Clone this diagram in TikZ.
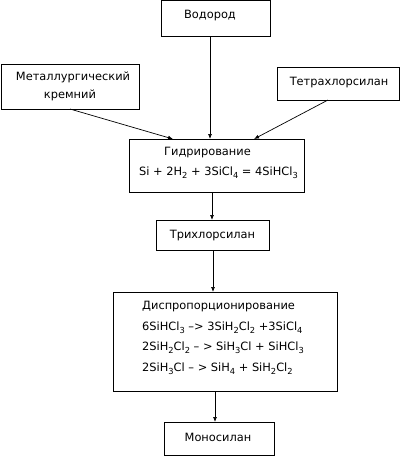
\documentclass[tikz,border=0pt]{standalone}
\usepackage{fontspec}
\setmainfont{DejaVu Sans}
\usetikzlibrary{arrows.meta}
\newcommand\sbs[1]{\raisebox{-0.45ex}{\fontsize{8.3}{9}\selectfont #1}}
\begin{document}
\begin{tikzpicture}[x=1pt,y=-1pt,
  box/.style={draw, line width=0.7pt, inner sep=0pt, outer sep=0pt},
  txt/.style={inner sep=0pt, font=\fontsize{11.4}{13}\selectfont},
  conn/.style={line width=0.7pt},
  arr/.style={line width=0.7pt, -{Latex[length=5pt,width=4pt]}}]
\useasboundingbox (0,0) rectangle (400,456);
% boxes
\node[box, minimum width=109pt, minimum height=35.5pt] (vod) at (215.5,18.25) {};
\node[box, minimum width=138pt, minimum height=45pt] (met) at (70,86.5) {};
\node[box, minimum width=122pt, minimum height=33pt] (tet) at (338,83.5) {};
\node[box, minimum width=175pt, minimum height=53pt] (hyd) at (216.5,165.5) {};
\node[box, minimum width=113pt, minimum height=30pt] (tri) at (212.5,235) {};
\node[box, minimum width=224pt, minimum height=99pt] (dis) at (225,341.5) {};
\node[box, minimum width=110pt, minimum height=33pt] (mono) at (219,438.5) {};
% texts
\node[txt] (tvod) at (210,16) {Водород};
\node[txt] (tmet1) at (73,77) {Металлургический};
\node[txt] (tmet2) at (70,95) {кремний};
\node[txt] (ttet) at (339,83) {Тетрахлорсилан};
\node[txt] (thyd1) at (207.5,153) {Гидрирование};
\node[txt, anchor=west] (thyd2) at (139,172.5) {Si + 2H\sbs{2} + 3SiCl\sbs{4} = 4SiHCl\sbs{3}};
\node[txt] (ttri) at (212.5,236) {Трихлорсилан};
\node[txt, anchor=west] (tdis1) at (142,307) {Диспропорционирование};
\node[txt, anchor=west] (tdis2) at (142,327.5) {6SiHCl\sbs{3} –> 3SiH\sbs{2}Cl\sbs{2} +3SiCl\sbs{4}};
\node[txt, anchor=west] (tdis3) at (142,348) {2SiH\sbs{2}Cl\sbs{2} – > SiH\sbs{3}Cl + SiHCl\sbs{3}};
\node[txt, anchor=west] (tdis4) at (142,368.5) {2SiH\sbs{3}Cl – > SiH\sbs{4} + SiH\sbs{2}Cl\sbs{2}};
\node[txt] (tmono) at (218,437) {Моносилан};
% connectors
\draw[arr] (vod.south -| 210,0) -- (hyd.north -| 210,0);
\draw[arr] (met.south) -- (hyd.north -| 173,0);
\draw[arr] (tet.south -| 328,0) -- (hyd.north -| 254,0);
\draw[arr] (hyd.south -| 212,0) -- (tri.north -| 212,0);
\draw[arr] (tri.south -| 213,0) -- (dis.north -| 213,0);
\draw[arr] (dis.south -| 215,0) -- (mono.north -| 215,0);
\end{tikzpicture}
\end{document}
